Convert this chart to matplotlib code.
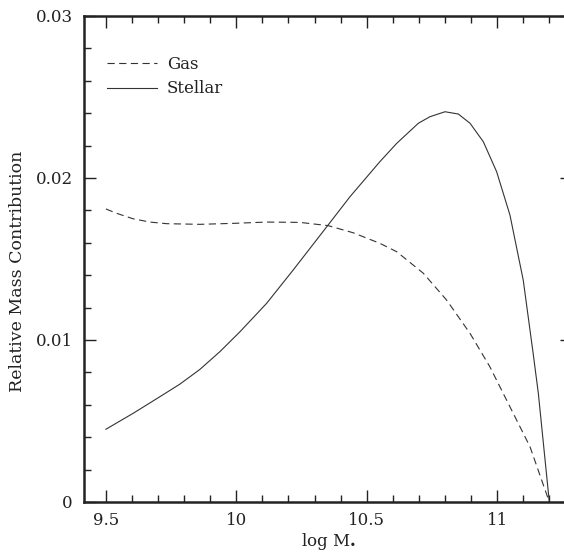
import numpy as np
import matplotlib
matplotlib.use("Agg")
import matplotlib.pyplot as plt
from matplotlib.ticker import MultipleLocator, FixedFormatter, FixedLocator

# values
gas_x = [9.5, 9.541, 9.605, 9.669, 9.733, 9.86, 9.988, 10.116, 10.244, 10.352,
         10.448, 10.55, 10.615, 10.717, 10.806, 10.896, 10.972, 11.049, 11.126, 11.2]
gas_y = [0.01809, 0.01782, 0.01748, 0.01728, 0.01718, 0.01714, 0.0172, 0.01728,
         0.01726, 0.01706, 0.01662, 0.01597, 0.01545, 0.01412, 0.01247, 0.01041,
         0.00835, 0.00588, 0.00341, 0.0]

star_x = [9.5, 9.605, 9.707, 9.784, 9.86, 9.937, 10.014, 10.116, 10.218, 10.352,
          10.436, 10.55, 10.615, 10.698, 10.742, 10.8, 10.851, 10.896, 10.947,
          10.998, 11.049, 11.1, 11.138, 11.158, 11.2]
star_y = [0.00449, 0.00548, 0.0065, 0.00728, 0.00818, 0.00928, 0.01051, 0.01226,
          0.01432, 0.0171, 0.01885, 0.0210, 0.02214, 0.02338, 0.02378, 0.02409,
          0.02395, 0.02338, 0.02224, 0.02039, 0.01772, 0.0137, 0.00918, 0.0067, 0.0]

xticks = [9.5, 10, 10.5, 11]
xticklabels = ["9.5", "10", "10.5", "11"]
yticks = [0, 0.01, 0.02, 0.03]
yticklabels = ["0", "0.01", "0.02", "0.03"]

plt.rcParams["font.family"] = "DejaVu Serif"
plt.rcParams["mathtext.fontset"] = "dejavuserif"
plt.rcParams["lines.scale_dashes"] = False

ink = "#222222"
W, H = 564, 553
fig = plt.figure(figsize=(W / 100, H / 100), dpi=100)
# right spine sits just past the picture edge, as in the reference
ax = fig.add_axes([84 / W, (H - 502) / H, (572 - 84) / W, (502 - 16) / H])

ax.plot(gas_x, gas_y, color="#333333", lw=0.8, dashes=(5.2, 3.2), label="Gas")
ax.plot(star_x, star_y, color="#333333", lw=0.8, label="Stellar")

ax.set_xlim(9.416, 11.287)
ax.set_ylim(0, 0.03)

ax.xaxis.set_major_locator(FixedLocator(xticks))
ax.xaxis.set_major_formatter(FixedFormatter(xticklabels))
ax.xaxis.set_minor_locator(MultipleLocator(0.1))
ax.yaxis.set_major_locator(FixedLocator(yticks))
ax.yaxis.set_major_formatter(FixedFormatter(yticklabels))
ax.yaxis.set_minor_locator(MultipleLocator(0.002))

ax.tick_params(which="both", direction="in", top=True, right=True, colors=ink,
               labelsize=12, width=1.0)
ax.tick_params(which="major", length=8.5)
ax.tick_params(which="minor", length=5)
ax.tick_params(axis="x", which="major", pad=7)
ax.tick_params(axis="y", which="major", pad=8)
for s in ax.spines.values():
    s.set_linewidth(1.8)
    s.set_color(ink)

ax.set_xlabel(r"log M$_{\bullet}$", fontsize=12, color=ink, labelpad=2)
ax.set_ylabel("Relative Mass Contribution", fontsize=12.5, color=ink)
ax.yaxis.set_label_coords(-0.118, 0.475)

leg = ax.legend(loc="upper left", bbox_to_anchor=(0.047, 0.918), frameon=False,
                fontsize=12, handlelength=3.0, handletextpad=0.6,
                labelspacing=0.45, borderpad=0, borderaxespad=0)
for t in leg.get_texts():
    t.set_color(ink)

fig.savefig("out.png", dpi=100)
